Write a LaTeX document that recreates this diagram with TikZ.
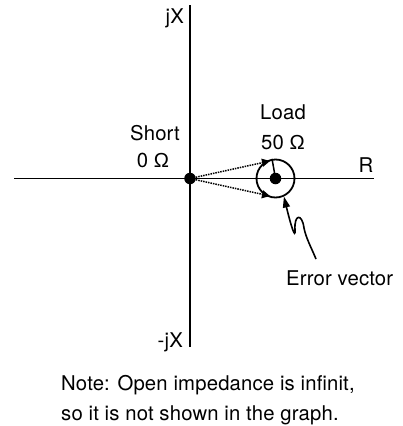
\documentclass[tikz,border=0pt]{standalone}
\usepackage{fontspec}
\setmainfont{TeX Gyre Heros}[LetterSpace=0.8]
\newfontfamily\omegafont{Liberation Sans}
\newcommand{\ohm}{{\omegafont Ω}}
\usetikzlibrary{arrows.meta}
\begin{document}
\begin{tikzpicture}[x=1pt,y=-1pt,
  lbl/.style={font=\fontsize{20.3}{24}\selectfont, inner sep=0pt},
  axis/.style={line width=1.8pt},
  dot/.style={circle, fill=black, inner sep=0pt, minimum size=11.5pt},
  dotline/.style={densely dotted, line width=1.5pt, -{Triangle[length=8pt,width=8pt]}},
  every node/.style={inner sep=0pt}]
\useasboundingbox (0,0) rectangle (403,426);
% axes
\coordinate (ytop) at (190,5);
\coordinate (ybot) at (190,347);
\coordinate (xl) at (14,178.5);
\coordinate (xr) at (374,178.5);
\draw[axis] (ytop) -- (ybot);
\draw[axis] (xl) -- (xr);
% points
\node[dot] (short) at (190,178.5) {};
\node[dot] (load) at (275.5,178.5) {};
\node[circle, draw, line width=1.8pt, minimum size=38pt] (err) at (275.5,178.5) {};
\coordinate (t1) at (270,161);
\coordinate (t2) at (270,196);
\draw[dotline] (short) -- (t1);
\draw[dotline] (short) -- (t2);
\draw[line width=1.5pt] (load.center) -- (err.100);
% labels
\node[lbl, anchor=base east] (jx) at (184,23) {jX};
\node[lbl, anchor=base east] (mjx) at (183,347) {-jX};
\node[lbl, anchor=base] (r) at (366,172) {R};
\node[lbl, anchor=base] (shortl) at (155,140) {Short};
\node[lbl, anchor=base] (zero) at (153,167) {0 \ohm};
\node[lbl, anchor=base] (loadl) at (283,119) {Load};
\node[lbl, anchor=base] (fifty) at (283,149) {50 \ohm};
\node[lbl, anchor=base west] (ev) at (286,285) {Error vector};
% wavy arrow
\coordinate (wstart) at (316,259);
\draw[line width=1.6pt, -{Triangle[length=11pt,width=7pt]}]
  (wstart) .. controls (311,247) and (306,238) .. (304,228)
  .. controls (302,213) and (294,214) .. (295,230)
  .. controls (295.5,240) and (291,226) .. (err.-65);
% note
\node[lbl, anchor=base west] (n1) at (61,390) {Note: Open impedance is infinit,};
\node[lbl, anchor=base west] (n2) at (61,420) {so it is not shown in the graph.};
\end{tikzpicture}
\end{document}
